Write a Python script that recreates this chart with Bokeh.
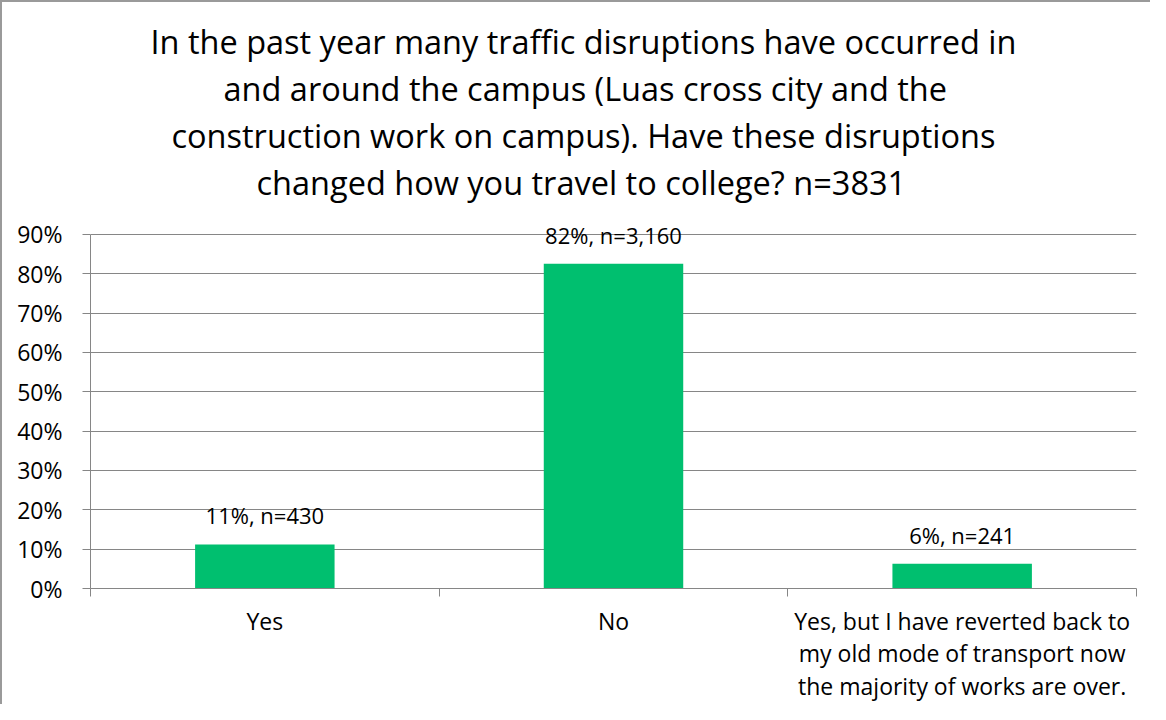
from bokeh.plotting import figure
from bokeh.models import (ColumnDataSource, FixedTicker, NumeralTickFormatter,
                          Range1d, Title)
from bokeh.core.properties import value
from bokeh.embed import file_html
from bokeh.resources import INLINE

categories = ["Yes", "No",
              "Yes, but I have reverted back to\nmy old mode of transport now\nthe majority of works are over."]
shares = [0.112, 0.825, 0.063]
bar_labels = ["11%, n=430", "82%, n=3,160", "6%, n=241"]
title_lines = [
    "In the past year many traffic disruptions have occurred in",
    "and around the campus (Luas cross city and the",
    "construction work on campus). Have these disruptions",
    "changed how you travel to college? n=3831",
]
title_indents = [60, 133, 81, 166]   # left offsets that centre each line
y_ticks = [0, 0.1, 0.2, 0.3, 0.4, 0.5, 0.6, 0.7, 0.8, 0.9]

FONT = "Open Sans"
GREY = "#868686"
W, H = 1150, 704
BL, BB = 88, 118

xs = [i + 0.5 for i in range(len(categories))]
src = ColumnDataSource(dict(x=xs, top=shares, label=bar_labels))

p = figure(width=W, height=H, output_backend="svg", toolbar_location=None,
           x_range=Range1d(0, len(categories)),
           y_range=Range1d(0, y_ticks[-1] + 0.03),
           min_border_left=BL, min_border_right=16, min_border_top=0,
           min_border_bottom=BB)
p.title = None
p.outline_line_color = None
p.background_fill_color = "white"
p.border_fill_color = "white"
p.styles = {"border-left": "2px solid #9a9a9a", "border-top": "2px solid #9a9a9a",
            "box-sizing": "border-box"}

p.vbar(x="x", top="top", width=0.4, source=src, fill_color="#00BF6F",
       line_color=None)
p.text(x="x", y="top", text="label", source=src, text_align="center",
       text_baseline="alphabetic", y_offset=-29, text_font=value(FONT),
       text_font_size="22px", text_color="#000000")

# x axis
xa = p.xaxis[0]
xa.ticker = FixedTicker(ticks=xs, minor_ticks=[0, 1, 2, 3])
xa.major_label_overrides = {x: c for x, c in zip(xs, categories)}
xa.major_tick_out = 0
xa.major_tick_in = 0
xa.minor_tick_out = 8
xa.minor_tick_in = 0
xa.minor_tick_line_color = GREY
xa.axis_line_color = GREY
xa.major_label_text_font = FONT
xa.major_label_text_font_size = "23px"
xa.major_label_text_line_height = 1.02
xa.major_label_text_color = "#000000"
xa.major_label_standoff = 8
p.xgrid.grid_line_color = None

# y axis
ya = p.yaxis[0]
ya.ticker = FixedTicker(ticks=y_ticks)
ya.formatter = NumeralTickFormatter(format="0%")
ya.bounds = (y_ticks[0], y_ticks[-1])
ya.major_tick_out = 8
ya.major_tick_in = 0
ya.minor_tick_line_color = None
ya.major_tick_line_color = GREY
ya.axis_line_color = GREY
ya.major_label_text_font = FONT
ya.major_label_text_font_size = "23px"
ya.major_label_text_color = "#000000"
ya.major_label_standoff = 20
p.ygrid.grid_line_color = GREY
p.ygrid.ticker = FixedTicker(ticks=y_ticks)

# spacer between the title block and the plot frame
p.add_layout(Title(text=" ", text_font_size="2px", standoff=14), "above")
# title lines: titles added later sit further from the frame
for t, off in reversed(list(zip(title_lines, title_indents))):
    p.add_layout(Title(text=t, align="left", offset=off, text_font=FONT,
                       text_font_size="32.5px", text_font_style="normal",
                       text_color="#000000", standoff=0), "above")
# spacer at the very top
p.add_layout(Title(text=" ", text_font_size="2px", standoff=10), "above")

open("out.html", "w").write(file_html(p, INLINE))
